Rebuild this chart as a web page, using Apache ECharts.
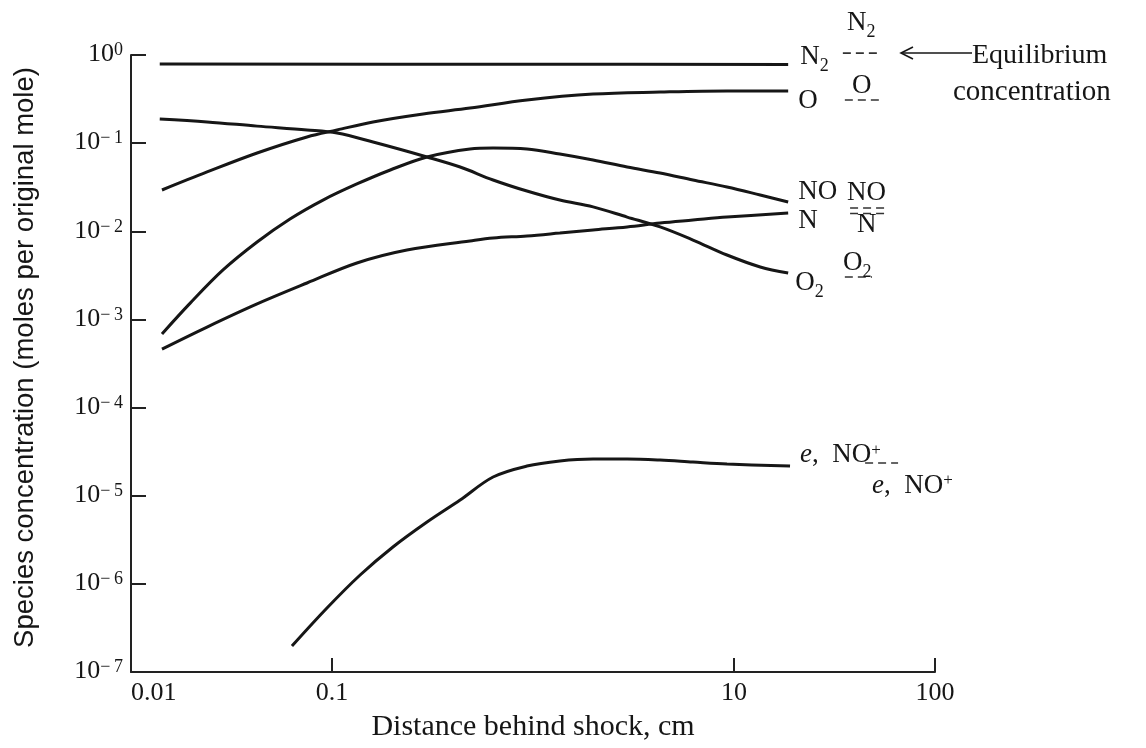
<!DOCTYPE html>
<html><head><meta charset="utf-8">
<script src="https://cdn.jsdelivr.net/npm/echarts@6/dist/echarts.min.js"></script>
<style>html,body{margin:0;padding:0;background:#fff}#c{width:1146px;height:748px}</style>
</head><body><div id="c"></div>
<script>
// ---- data ----
const xTickValues = [0.01, 0.1, 10, 100];
const xTickLabels = ['0.01', '0.1', '10', '100'];

const n2Dist = [0.0139, 1.0, 18.6];
const n2Conc = [0.79, 0.785, 0.78];

const oDist = [0.01426, 0.0239, 0.0424, 0.0751, 0.106, 0.160, 0.284, 0.486, 0.933, 1.99, 4.29, 9.23, 18.6];
const oConc = [0.0294, 0.0471, 0.0773, 0.1175, 0.141, 0.174, 0.214, 0.250, 0.309, 0.361, 0.380, 0.391, 0.391];

const o2Dist = [0.0139, 0.0239, 0.0424, 0.0751, 0.106, 0.160, 0.297, 0.434, 0.633, 0.933, 1.36, 1.99, 2.94, 4.29, 6.25, 9.23, 13.5, 18.6];
const o2Conc = [0.188, 0.174, 0.156, 0.141, 0.130, 0.103, 0.0697, 0.0536, 0.0382, 0.0286, 0.0226, 0.0189, 0.0145, 0.0112, 0.00796, 0.00538, 0.00394, 0.00336];

const noDist = [0.01426, 0.0197, 0.0287, 0.0424, 0.0618, 0.0902, 0.133, 0.195, 0.297, 0.486, 0.633, 0.933, 1.36, 1.99, 2.94, 4.29, 6.25, 9.23, 13.5, 18.6];
const noConc = [6.84e-4, 1.53e-3, 3.64e-3, 7.55e-3, 0.01378, 0.0226, 0.0344, 0.0496, 0.0697, 0.0859, 0.0881, 0.0859, 0.0753, 0.0644, 0.0536, 0.0458, 0.0382, 0.0318, 0.0258, 0.0215];

const nDist = [0.01426, 0.0239, 0.0424, 0.0751, 0.133, 0.236, 0.486, 0.633, 0.933, 1.36, 1.99, 2.94, 4.29, 6.25, 9.23, 18.6];
const nConc = [4.61e-4, 8.20e-4, 1.50e-3, 2.59e-3, 4.37e-3, 6.13e-3, 7.77e-3, 8.39e-3, 8.85e-3, 9.55e-3, 0.01035, 0.0112, 0.0124, 0.0134, 0.0145, 0.0161];

const eDist = [0.0632, 0.0944, 0.138, 0.201, 0.297, 0.434, 0.633, 0.933, 1.36, 1.99, 2.94, 4.29, 6.25, 9.23, 19.0];
const eConc = [1.97e-7, 5.32e-7, 1.26e-6, 2.62e-6, 5.03e-6, 8.94e-6, 1.63e-5, 2.17e-5, 2.48e-5, 2.61e-5, 2.61e-5, 2.54e-5, 2.41e-5, 2.29e-5, 2.17e-5];

// equilibrium concentration markers (short dashed segments at the right)
const eqSpecies   = ['N2', 'O', 'NO', 'N', 'O2', 'e'];
const eqDistStart = [34.8, 35.6, 37.8, 37.8, 35.6, 44.9];
const eqDistEnd   = [53.2, 53.2, 58.3, 58.3, 48.6, 65.5];
const eqConc      = [1.05, 0.309, 0.0184, 0.0159, 0.00303, 2.35e-5];

// label texts (rich-text markup)
const curveLabels = {
  N2: '{m|N}{sub|2}', O: '{m|O}', O2: '{m|O}{sub|2}', NO: '{m|NO}', N: '{m|N}', e: '{i|e}{m|,  NO}{sup|+}'
};
const eqLabels = {
  N2: '{m|N}{sub|2}', O: '{m|O}', NO: '{m|NO}', N: '{m|N}', O2: '{m|O}{sub|2}', e: '{i|e}{m|,  NO}{sup|+}'
};
const xAxisTitle = 'Distance behind shock, cm';
const yAxisTitle = 'Species concentration (moles per original mole)';
const eqTitleLines = ['Equilibrium', 'concentration'];

// ---- styling ----
const SERIF = '"Liberation Serif", "Times New Roman", serif';
const SANS = '"Liberation Sans", Arial, sans-serif';
const INK = '#161616';
const rich = {
  m:   { fontFamily: SERIF, fontSize: 27, lineHeight: 27, verticalAlign: 'top', color: INK },
  i:   { fontFamily: SERIF, fontSize: 27, lineHeight: 27, verticalAlign: 'top', color: INK, fontStyle: 'italic' },
  sub: { fontFamily: SERIF, fontSize: 18, lineHeight: 32, verticalAlign: 'bottom', color: INK },
  sup: { fontFamily: SERIF, fontSize: 17, lineHeight: 16, verticalAlign: 'top', color: INK }
};
const curveLabelOffset = { N2: [12, -5], O: [10, 10], NO: [10, -10], N: [10, 8], O2: [7, 12], e: [10, -11] };
const eqLabelOffset = { N2: [-33, -28], O: [-28, -14], NO: [-41, -15], N: [-31, 11], O2: [-29, -12], e: [-26, 23] };

function pts(xs, ys, key) {
  return xs.map((x, i) => {
    if (i === xs.length - 1) {
      return { value: [x, ys[i]], label: { show: true, position: 'inside', align: 'left', verticalAlign: 'middle',
        offset: curveLabelOffset[key], formatter: curveLabels[key], rich } };
    }
    return [x, ys[i]];
  });
}
function curve(name, xs, ys, key) {
  return { name, type: 'line', data: pts(xs, ys, key), smooth: 0.35,
    symbol: 'circle', symbolSize: 0, showSymbol: true,
    lineStyle: { color: INK, width: 3 }, itemStyle: { color: INK }, label: { show: false },
    emphasis: { disabled: true }, z: 3 };
}
const series = [
  curve('N2', n2Dist, n2Conc, 'N2'),
  curve('O', oDist, oConc, 'O'),
  curve('O2', o2Dist, o2Conc, 'O2'),
  curve('NO', noDist, noConc, 'NO'),
  curve('N', nDist, nConc, 'N'),
  curve('e, NO+', eDist, eConc, 'e')
];
eqSpecies.forEach((sp, k) => {
  series.push({
    name: 'eq ' + sp, type: 'line', symbol: 'circle', symbolSize: 0, showSymbol: true, clip: false,
    data: [[eqDistStart[k], eqConc[k]], { value: [eqDistEnd[k], eqConc[k]],
      label: { show: true, position: 'inside', align: 'left', verticalAlign: 'middle',
        offset: eqLabelOffset[sp], formatter: eqLabels[sp], rich } }],
    lineStyle: { color: '#333', width: 1.6, type: [8, 5] }, itemStyle: { color: INK },
    emphasis: { disabled: true }, z: 2
  });
});

function yLabel(v) {
  const e = Math.round(Math.log10(v));
  return '{b|10}{s|' + (e === 0 ? '0' : '\u2212\u2009' + (-e)) + '}';
}
function xLabel(v) {
  for (let i = 0; i < xTickValues.length; i++) {
    if (Math.abs(Math.log10(v) - Math.log10(xTickValues[i])) < 1e-6) return xTickLabels[i];
  }
  return '';
}

const chart = echarts.init(document.getElementById('c'), null, { renderer: 'canvas' });
chart.setOption({
  animation: false,
  backgroundColor: '#fff',
  grid: { left: 131, right: 211, top: 55, bottom: 76, containLabel: false, outerBoundsMode: 'none' },
  xAxis: {
    type: 'log', logBase: 10, min: 0.01, max: 100, splitNumber: 4,
    axisLine: { show: true, lineStyle: { color: '#222', width: 2 } },
    axisTick: { show: true, inside: true, length: 14, customValues: xTickValues, lineStyle: { color: '#222', width: 2 } },
    minorTick: { show: false }, splitLine: { show: false },
    axisLabel: { customValues: xTickValues, formatter: xLabel, alignMinLabel: 'left', margin: 8,
      fontFamily: SERIF, fontSize: 26, color: INK },
    name: xAxisTitle, nameLocation: 'middle', nameGap: 40,
    nameTextStyle: { fontFamily: SERIF, fontSize: 30, color: INK }
  },
  yAxis: {
    type: 'log', logBase: 10, min: 1e-7, max: 1, splitNumber: 7,
    axisLine: { show: true, lineStyle: { color: '#222', width: 2 } },
    axisTick: { show: true, inside: true, length: 15, lineStyle: { color: '#222', width: 2 } },
    minorTick: { show: false }, splitLine: { show: false },
    axisLabel: { formatter: yLabel, margin: 8, rich: {
      b: { fontFamily: SERIF, fontSize: 26, lineHeight: 27, verticalAlign: 'top', color: INK },
      s: { fontFamily: SERIF, fontSize: 18, lineHeight: 16, verticalAlign: 'top', color: INK } } },
    name: yAxisTitle, nameLocation: 'middle', nameGap: 92,
    nameTextStyle: { fontFamily: SANS, fontSize: 27.5, color: INK, padding: [0, 0, 0, 12] }
  },
  graphic: [
    { type: 'line', shape: { x1: 902, y1: 53, x2: 972, y2: 53 }, style: { stroke: INK, lineWidth: 1.6 } },
    { type: 'polyline', shape: { points: [[913, 47], [901, 53], [913, 59]] }, style: { stroke: INK, lineWidth: 1.6, fill: null } },
    { type: 'text', x: 972, y: 56, style: { text: eqTitleLines[0], font: '28px ' + SERIF, fill: INK, align: 'left', verticalAlign: 'middle' } },
    { type: 'text', x: 953, y: 92, style: { text: eqTitleLines[1], font: '29px ' + SERIF, fill: INK, align: 'left', verticalAlign: 'middle' } }
  ],
  series
});
</script>
</body></html>
